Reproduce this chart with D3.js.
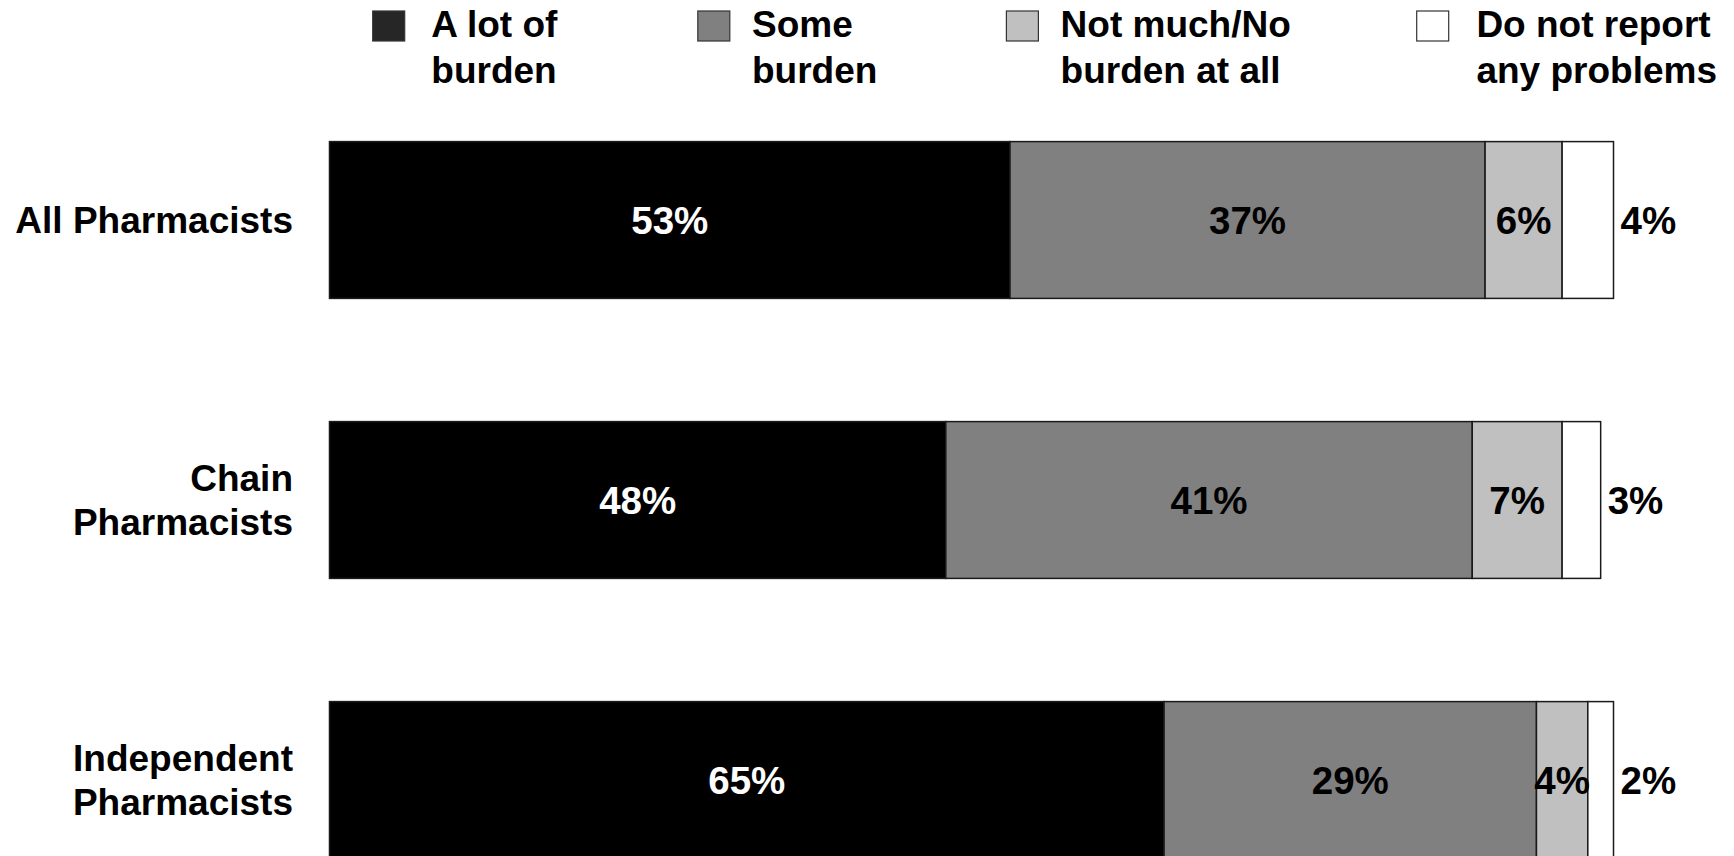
<!DOCTYPE html>
<html>
<head>
<meta charset="utf-8">
<script src="https://cdn.jsdelivr.net/npm/d3@7"></script>
<style>
  html, body { margin: 0; padding: 0; background: #fff; }
  svg { display: block; }
  text { font-family: "Liberation Sans", Arial, Helvetica, sans-serif; font-weight: bold; }
</style>
</head>
<body>
<svg id="chart" width="1734" height="856"></svg>
<script>
// ---- data ----
const categories = ["All Pharmacists", "Chain Pharmacists", "Independent Pharmacists"];
const categoryLines = [["All Pharmacists"], ["Chain", "Pharmacists"], ["Independent", "Pharmacists"]];
const seriesKeys = ["A lot of burden", "Some burden", "Not much/No burden at all", "Do not report any problems"];
const legendLines = [["A lot of", "burden"], ["Some", "burden"], ["Not much/No", "burden at all"], ["Do not report", "any problems"]];
const aLotOfBurden = [53, 48, 65];
const someBurden = [37, 41, 29];
const notMuchBurden = [6, 7, 4];
const noProblems = [4, 3, 2];
const xTicks = [0, 100];

// ---- styles / layout ----
const barColors = ["#000000", "#808080", "#c0c0c0", "#ffffff"];
const legendColors = ["#262626", "#808080", "#c0c0c0", "#ffffff"];
const labelColors = ["#ffffff", "#000000", "#000000", "#000000"];
const legendSwatchX = [372.7, 697.8, 1006.4, 1416.7];
const legendTextX = [431.3, 752, 1060.6, 1476.4];

const svg = d3.select("#chart");

const rows = categories.map((c, i) => ({
  category: c,
  [seriesKeys[0]]: aLotOfBurden[i],
  [seriesKeys[1]]: someBurden[i],
  [seriesKeys[2]]: notMuchBurden[i],
  [seriesKeys[3]]: noProblems[i]
}));

const stacked = d3.stack().keys(seriesKeys)(rows);

const x = d3.scaleLinear().domain(d3.extent(xTicks)).range([329.5, 1613.5]);
const y = d3.scaleBand().domain(categories).range([80, 920]).paddingInner(0.44).paddingOuter(0.22);

const valueFont = 38.5;
const catFont = 37;
const legendFont = 37;

// bars
const layer = svg.append("g").selectAll("g")
  .data(stacked).join("g")
  .attr("fill", (d, i) => barColors[i]);

layer.selectAll("rect")
  .data(d => d.map(p => ({ p, key: d.key })))
  .join("rect")
  .attr("x", d => x(d.p[0]))
  .attr("y", d => y(d.p.data.category))
  .attr("width", d => x(d.p[1]) - x(d.p[0]))
  .attr("height", y.bandwidth())
  .attr("stroke", "#1a1a1a")
  .attr("stroke-width", 1.5);

// value labels
stacked.forEach((s, si) => {
  svg.append("g").selectAll("text")
    .data(s).join("text")
    .attr("x", d => si === 3 ? x(d[1]) + 7 : (x(d[0]) + x(d[1])) / 2)
    .attr("y", d => y(d.data.category) + y.bandwidth() / 2)
    .attr("dy", "0.36em")
    .attr("text-anchor", si === 3 ? "start" : "middle")
    .attr("font-size", valueFont)
    .attr("fill", labelColors[si])
    .text(d => (d[1] - d[0]) + "%");
});

// category labels
const catG = svg.append("g");
categories.forEach((c, i) => {
  const lines = categoryLines[i];
  const cy = y(c) + y.bandwidth() / 2;
  const lh = 44;
  const t = catG.append("text")
    .attr("x", 293)
    .attr("text-anchor", "end")
    .attr("font-size", catFont)
    .attr("fill", "#000");
  lines.forEach((ln, li) => {
    t.append("tspan")
      .attr("x", 293)
      .attr("y", cy + (li - (lines.length - 1) / 2) * lh)
      .attr("dy", "0.36em")
      .text(ln);
  });
});

// legend
const lg = svg.append("g");
seriesKeys.forEach((k, i) => {
  lg.append("rect")
    .attr("x", legendSwatchX[i]).attr("y", 11)
    .attr("width", 32).attr("height", 30)
    .attr("fill", legendColors[i])
    .attr("stroke", "#333").attr("stroke-width", 1.2);
  const t = lg.append("text")
    .attr("font-size", legendFont)
    .attr("fill", "#000");
  legendLines[i].forEach((ln, li) => {
    t.append("tspan")
      .attr("x", legendTextX[i])
      .attr("y", 37 + li * 46)
      .text(ln);
  });
});
</script>
</body>
</html>
